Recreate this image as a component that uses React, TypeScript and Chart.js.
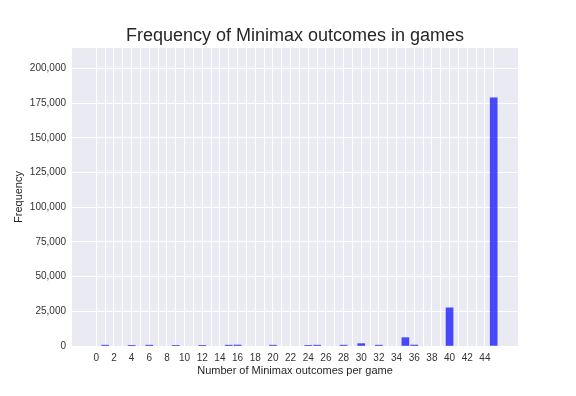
import React, { useEffect, useRef } from "react";
import { Chart, registerables } from "chart.js";

Chart.register(...registerables);

const outcomes = [1, 4, 6, 9, 12, 15, 16, 20, 24, 25, 28, 30, 32, 35, 36, 40, 45];
const frequency = [600, 500, 600, 500, 500, 600, 700, 600, 500, 600, 600, 1700, 600, 6000, 700, 27500, 178800];
const xGridValues = [0, 1, 2, 3, 4, 5, 6, 7, 8, 9, 10, 11, 12, 13, 14, 15, 16, 17, 18, 19, 20, 21, 22, 23, 24, 25, 26, 27, 28, 29, 30, 31, 32, 33, 34, 35, 36, 37, 38, 39, 40, 41, 42, 43, 44, 45];
const xTickLabels = ["0", "2", "4", "6", "8", "10", "12", "14", "16", "18", "20", "22", "24", "26", "28", "30", "32", "34", "36", "38", "40", "42", "44"];
const yTickValues = [0, 25000, 50000, 75000, 100000, 125000, 150000, 175000, 200000];
const titleText = "Frequency of Minimax outcomes in games";

const FONT = "'Liberation Sans', Arial, Helvetica, sans-serif";

const bgPlugin = {
  id: "bgArea",
  beforeDraw(chart: any) {
    const { ctx, chartArea } = chart;
    ctx.save();
    ctx.fillStyle = "#EAEAF2";
    ctx.fillRect(chartArea.left, chartArea.top, chartArea.right - chartArea.left, chartArea.bottom - chartArea.top);
    ctx.restore();
  },
  afterDraw(chart: any) {
    const { ctx, chartArea } = chart;
    ctx.save();
    ctx.fillStyle = "#262626";
    ctx.font = `18px ${FONT}`;
    ctx.textAlign = "center";
    ctx.textBaseline = "middle";
    ctx.fillText(titleText, (chartArea.left + chartArea.right) / 2, 36);
    ctx.restore();
  },
};

export default function App() {
  const ref = useRef<HTMLCanvasElement | null>(null);
  useEffect(() => {
    document.body.style.margin = "0";
    const chart = new Chart(ref.current as HTMLCanvasElement, {
      type: "bar",
      data: {
        datasets: [
          {
            data: outcomes.map((x, i) => ({ x, y: frequency[i] })),
            backgroundColor: "rgba(0,0,255,0.7)",
            barThickness: 7,
            borderWidth: 0,
          },
        ],
      },
      options: {
        animation: false,
        responsive: false,
        layout: { padding: { left: 0, right: 58, top: 48, bottom: 0 } },
        plugins: {
          legend: { display: false },
          tooltip: { enabled: false },
          title: { display: false },
        },
        scales: {
          x: {
            type: "linear",
            offset: false,
            min: -2.75,
            max: 47.75,
            afterBuildTicks: (s: any) => {
              s.ticks = xGridValues.map((v) => ({ value: v }));
            },
            afterFit: (s: any) => {
              s.height = 50;
              s.paddingLeft = 0;
              s.paddingRight = 0;
            },
            grid: { color: "#FFFFFF", lineWidth: 1, drawTicks: false, offset: false },
            border: { display: false },
            ticks: {
              autoSkip: false,
              maxRotation: 0,
              padding: 6,
              color: "#333333",
              font: { family: FONT, size: 10 },
              callback: (v: any) => (xTickLabels.includes(String(v)) ? String(v) : ""),
            },
            title: {
              display: true,
              text: "Number of Minimax outcomes per game",
              color: "#262626",
              font: { family: FONT, size: 11 },
              padding: { top: 0, bottom: 18 },
            },
          },
          y: {
            min: 0,
            max: 214700,
            afterBuildTicks: (s: any) => {
              s.ticks = yTickValues.map((v) => ({ value: v }));
            },
            afterFit: (s: any) => {
              s.width = 72;
              s.paddingTop = 0;
              s.paddingBottom = 0;
            },
            grid: { color: "#FFFFFF", lineWidth: 1, drawTicks: false },
            border: { display: false },
            ticks: {
              padding: 6,
              color: "#333333",
              font: { family: FONT, size: 10 },
              callback: (v: any) => Number(v).toLocaleString("en-US"),
            },
            title: {
              display: true,
              text: "Frequency",
              color: "#262626",
              font: { family: FONT, size: 11 },
              padding: { top: 12, bottom: 0 },
            },
          },
        },
      },
      plugins: [bgPlugin],
    });
    return () => chart.destroy();
  }, []);
  return (
    <div style={{ width: 576, height: 396 }}>
      <canvas ref={ref} width={576} height={396} style={{ width: 576, height: 396, display: "block" }} />
    </div>
  );
}
